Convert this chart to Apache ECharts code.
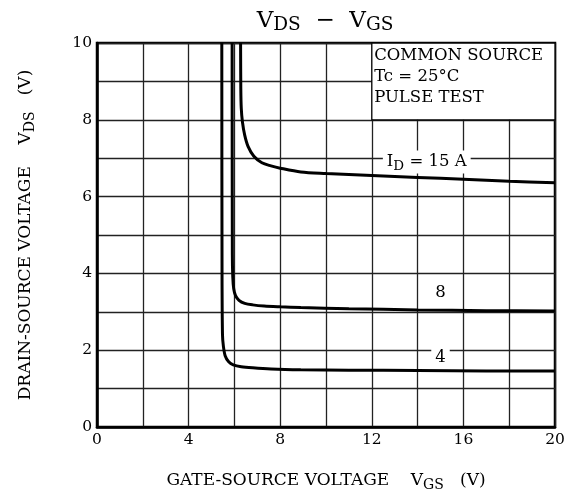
<!DOCTYPE html>
<html>
<head>
<meta charset="utf-8">
<script src="https://cdn.jsdelivr.net/npm/echarts@6/dist/echarts.min.js"></script>
<style>
  html, body { margin: 0; padding: 0; background: #fff; }
  #chart { width: 570px; height: 497px; }
</style>
</head>
<body>
<div id="chart"></div>
<script>
// curve data (VGS in V, VDS in V)
const vgs4 = [5.45, 5.46, 5.48, 5.52, 5.6, 5.75, 5.95, 6.3, 6.8, 7.6, 8.9, 11, 14, 17, 20];
const vds4 = [10, 4, 2.4, 2.1, 1.85, 1.7, 1.62, 1.57, 1.54, 1.51, 1.49, 1.48, 1.47, 1.46, 1.46];

const vgs8 = [5.9, 5.91, 5.93, 5.97, 6.05, 6.2, 6.45, 6.8, 7.3, 8.0, 8.9, 11, 14, 17, 20];
const vds8 = [10, 4.5, 3.9, 3.6, 3.42, 3.3, 3.22, 3.18, 3.15, 3.13, 3.11, 3.08, 3.05, 3.03, 3.02];

const vgs15 = [6.27, 6.28, 6.3, 6.35, 6.45, 6.6, 6.85, 7.2, 7.6, 8.0, 8.9, 10, 11.5, 14, 16, 18, 20];
const vds15 = [10, 8.8, 8.3, 7.95, 7.6, 7.3, 7.05, 6.88, 6.8, 6.74, 6.64, 6.6, 6.56, 6.5, 6.45, 6.4, 6.36];

const curveLabels = ['{n|I}{s|D}{n| = 15 A}', '{n|8}', '{n|4}'];
const labelPos = [[14.4, 6.9], [15.0, 3.49], [15.0, 1.81]];
const noteLines = ['COMMON SOURCE', 'Tc = 25°C', 'PULSE TEST'];

const font = 'DejaVu Serif';
const chart = echarts.init(document.getElementById('chart'));

const zip = (xs, ys) => xs.map((x, i) => [x, ys[i]]);

const subRich = (big, small) => ({
  n: { fontFamily: font, fontSize: big, fontWeight: 'normal', color: '#000' },
  s: { fontFamily: font, fontSize: small, fontWeight: 'normal', color: '#000', padding: [9, 0, 0, 0] }
});

const curveLabel = (i, bg) => ({
  symbol: 'rect',
  symbolSize: 1,
  itemStyle: { color: 'rgba(0,0,0,0)' },
  silent: true,
  label: {
    show: true,
    position: 'inside',
    formatter: curveLabels[i],
    backgroundColor: bg ? '#fff' : 'transparent',
    padding: [0, 4],
    rich: subRich(16.5, 13.5)
  },
  data: [{ coord: labelPos[i] }]
});

const lineStyle = { color: '#000', width: 3 };

const option = {
  animation: false,
  title: {
    text: '{n|V}{s|DS}{n|  −  V}{s|GS}',
    left: 320,
    top: 2,
    textAlign: 'center',
    textStyle: { rich: subRich(23, 18.5) }
  },
  grid: {
    left: 97, right: 15, top: 43, bottom: 70,
    show: true, borderColor: '#000', borderWidth: 2.5,
    containLabel: false
  },
  xAxis: {
    type: 'value',
    min: 0, max: 20, interval: 2,
    name: '{n|GATE-SOURCE VOLTAGE    V}{s|GS}{n|   (V)}',
    nameLocation: 'middle',
    nameGap: 42,
    nameTextStyle: { rich: subRich(17, 14) },
    axisLine: { show: true, lineStyle: { color: '#000', width: 2.5 } },
    axisTick: { show: false },
    axisLabel: {
      margin: 5,
      color: '#000', fontFamily: font, fontSize: 15.5,
      formatter: v => (v % 4 === 0 ? String(v) : '')
    },
    splitLine: { show: true, lineStyle: { color: '#222', width: 1.3 } }
  },
  yAxis: {
    type: 'value',
    min: 0, max: 10, interval: 1,
    name: '{n|DRAIN-SOURCE VOLTAGE    V}{s|DS}{n|   (V)}',
    nameLocation: 'middle',
    nameGap: 60,
    nameTextStyle: { rich: subRich(17, 14) },
    axisLine: { show: true, lineStyle: { color: '#000', width: 2.5 } },
    axisTick: { show: false },
    axisLabel: {
      margin: 5,
      color: '#000', fontFamily: font, fontSize: 15.5,
      formatter: v => (v % 2 === 0 ? String(v) : '')
    },
    splitLine: { show: true, lineStyle: { color: '#222', width: 1.3 } }
  },
  series: [
    {
      name: 'note',
      type: 'line',
      data: [],
      markArea: {
        silent: true,
        itemStyle: { color: '#fff', borderColor: '#000', borderWidth: 1.3 },
        label: {
          show: true,
          position: 'insideTopLeft',
          distance: 3,
          formatter: noteLines.join('\n'),
          color: '#000',
          fontFamily: font,
          fontSize: 16.5,
          lineHeight: 21
        },
        data: [[{ coord: [12, 10] }, { coord: [20, 8] }]]
      }
    },
    {
      name: '15 A', type: 'line', data: zip(vgs15, vds15),
      showSymbol: false, smooth: 0.3, clip: true, lineStyle,
      markPoint: curveLabel(0, true)
    },
    {
      name: '8 A', type: 'line', data: zip(vgs8, vds8),
      showSymbol: false, smooth: 0.3, clip: true, lineStyle,
      markPoint: curveLabel(1, false)
    },
    {
      name: '4 A', type: 'line', data: zip(vgs4, vds4),
      showSymbol: false, smooth: 0.3, clip: true, lineStyle,
      markPoint: curveLabel(2, true)
    }
  ]
};

chart.setOption(option);
</script>
</body>
</html>
